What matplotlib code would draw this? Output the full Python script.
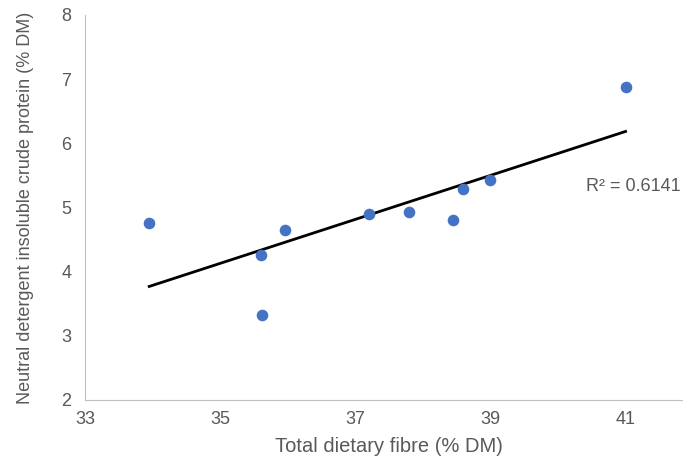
import matplotlib
matplotlib.use("Agg")
import matplotlib.pyplot as plt
import numpy as np

# Data
fibre = np.array([33.95, 35.61, 35.62, 35.96, 37.21, 37.79, 38.45, 38.59, 39.0, 41.0])
ndicp = np.array([4.75, 4.26, 3.33, 4.65, 4.89, 4.93, 4.81, 5.29, 5.43, 6.88])
x_ticks = [33, 35, 37, 39, 41]
y_ticks = [2, 3, 4, 5, 6, 7, 8]
r2_label = "R² = 0.6141"

plt.rcParams['font.family'] = ['Liberation Sans', 'DejaVu Sans']
grey = '#595959'

fig = plt.figure(figsize=(6.83, 4.65), dpi=100)
ax = fig.add_axes([0.1245, 0.14, 0.8755, 0.828])

ax.scatter(fibre, ndicp, s=70, color='#4472C4', zorder=3, linewidths=0)

# linear trendline
m, b = np.polyfit(fibre, ndicp, 1)
xs = np.array([fibre.min(), fibre.max()])
ax.plot(xs, m * xs + b, color='black', lw=2, zorder=2)
ax.text(40.42, 5.32, r2_label, color=grey, fontsize=13, va='center', ha='left')

ax.set_xlim(33, 41.85)
ax.set_ylim(2, 8)
ax.set_xticks(x_ticks)
ax.set_yticks(y_ticks)
ax.tick_params(length=0, labelsize=13, colors=grey)
ax.tick_params(axis='y', pad=10)
ax.tick_params(axis='x', pad=8)

for s in ['top', 'right']:
    ax.spines[s].set_visible(False)
for s in ['left', 'bottom']:
    ax.spines[s].set_color('#BFBFBF')

ax.set_xlabel('Total dietary fibre (% DM)', fontsize=14.5, color=grey, va='center')
ax.set_ylabel('Neutral detergent insoluble crude protein (% DM)', fontsize=13, color=grey, va='center')
ax.xaxis.set_label_coords(0.508, -0.12)
ax.yaxis.set_label_coords(-0.1, 0.5)

fig.savefig("out.png", dpi=100)
